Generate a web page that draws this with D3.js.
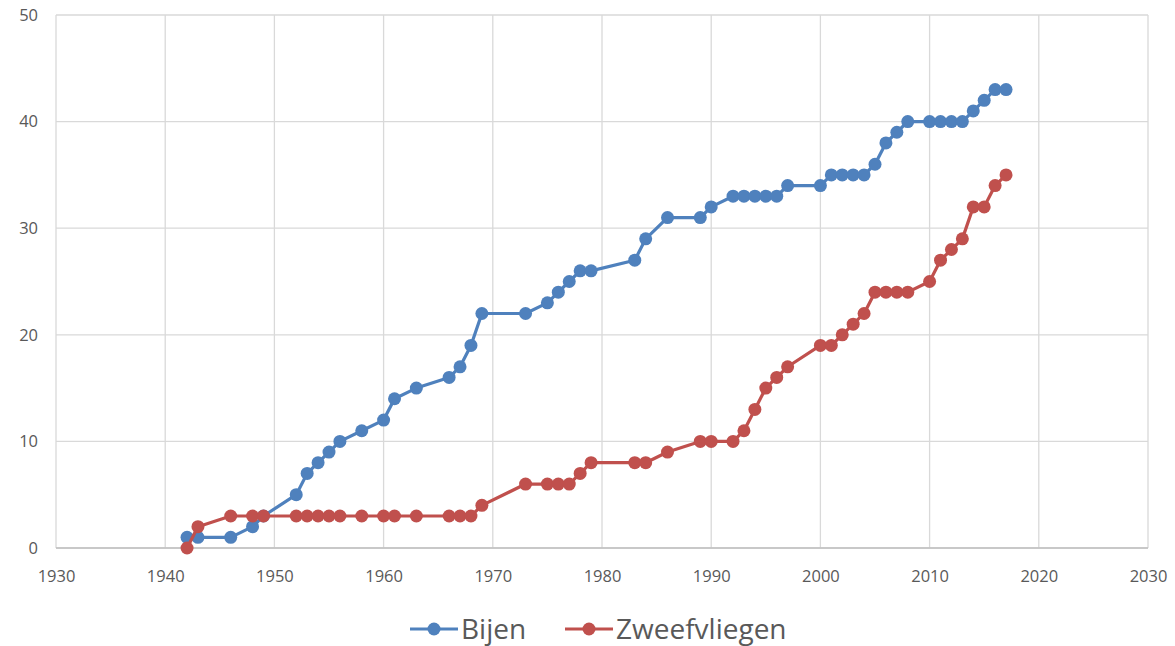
<!DOCTYPE html>
<html>
<head>
<meta charset="utf-8">
<script src="https://cdn.jsdelivr.net/npm/d3@7"></script>
<style>
  body { margin: 0; background: #fff; }
  svg text { font-family: "Open Sans", "Liberation Sans", sans-serif; fill: #595959; }
</style>
</head>
<body>
<div id="chart"></div>
<script>
// data
var years = [1942, 1943, 1946, 1948, 1949, 1952, 1953, 1954, 1955, 1956, 1958, 1960, 1961, 1963,
    1966, 1967, 1968, 1969, 1973, 1975, 1976, 1977, 1978, 1979, 1983, 1984, 1986, 1989, 1990,
    1992, 1993, 1994, 1995, 1996, 1997, 2000, 2001, 2002, 2003, 2004, 2005, 2006, 2007, 2008,
    2010, 2011, 2012, 2013, 2014, 2015, 2016, 2017];
var bijen = [1, 1, 1, 2, 3, 5, 7, 8, 9, 10, 11, 12, 14, 15,
    16, 17, 19, 22, 22, 23, 24, 25, 26, 26, 27, 29, 31, 31, 32,
    33, 33, 33, 33, 33, 34, 34, 35, 35, 35, 35, 36, 38, 39, 40,
    40, 40, 40, 40, 41, 42, 43, 43];
var zweefvliegen = [0, 2, 3, 3, 3, 3, 3, 3, 3, 3, 3, 3, 3, 3,
    3, 3, 3, 4, 6, 6, 6, 6, 7, 8, 8, 8, 9, 10, 10,
    10, 11, 13, 15, 16, 17, 19, 19, 20, 21, 22, 24, 24, 24, 24,
    25, 27, 28, 29, 32, 32, 34, 35];
var xTicks = [1930, 1940, 1950, 1960, 1970, 1980, 1990, 2000, 2010, 2020, 2030];
var yTicks = [0, 10, 20, 30, 40, 50];

var series = [
    { name: "Bijen", values: bijen, color: "#4F81BD" },
    { name: "Zweefvliegen", values: zweefvliegen, color: "#C0504D" }
];

var W = 1175, H = 646;
var margin = { top: 15, right: 27, bottom: 98, left: 56 };
var width = W - margin.left - margin.right;
var height = H - margin.top - margin.bottom;

var svg = d3.select("#chart").append("svg")
    .attr("width", W)
    .attr("height", H)
    .append("g")
    .attr("transform", "translate(" + margin.left + "," + margin.top + ")");

var x = d3.scaleLinear().domain([1930, 2030]).range([0, width]);
var y = d3.scaleLinear().domain([0, 50]).range([height, 0]);

// gridlines
svg.append("g")
    .selectAll("line.h")
    .data(yTicks)
    .enter().append("line")
    .attr("x1", 0).attr("x2", width)
    .attr("y1", function (d) { return y(d); })
    .attr("y2", function (d) { return y(d); })
    .attr("stroke", "#d9d9d9")
    .attr("stroke-width", 1.3);

svg.append("g")
    .selectAll("line.v")
    .data(xTicks)
    .enter().append("line")
    .attr("x1", function (d) { return x(d); })
    .attr("x2", function (d) { return x(d); })
    .attr("y1", 0).attr("y2", height)
    .attr("stroke", "#d9d9d9")
    .attr("stroke-width", 1.3);

// bottom axis line
svg.append("line")
    .attr("x1", 0).attr("x2", width)
    .attr("y1", height).attr("y2", height)
    .attr("stroke", "#bfbfbf")
    .attr("stroke-width", 1.5);

// axes labels
var xaxis = svg.append("g")
    .attr("transform", "translate(0," + height + ")")
    .call(d3.axisBottom(x).tickValues(xTicks).tickFormat(d3.format("d")).tickSize(0).tickPadding(22));
xaxis.select("path").remove();
xaxis.selectAll("text").style("font-size", "16.5px").attr("fill", "#595959");

var yaxis = svg.append("g")
    .call(d3.axisLeft(y).tickValues(yTicks).tickSize(0).tickPadding(18));
yaxis.select("path").remove();
yaxis.selectAll("text").style("font-size", "16.5px").attr("fill", "#595959");

// lines and markers
var line = d3.line()
    .x(function (d) { return x(d.year); })
    .y(function (d) { return y(d.value); });

series.forEach(function (s) {
    var pts = years.map(function (yr, i) { return { year: yr, value: s.values[i] }; });
    var g = svg.append("g");
    g.append("path")
        .datum(pts)
        .attr("fill", "none")
        .attr("stroke", s.color)
        .attr("stroke-width", 3.2)
        .attr("stroke-linejoin", "round")
        .attr("d", line);
    g.selectAll("circle")
        .data(pts)
        .enter().append("circle")
        .attr("cx", function (d) { return x(d.year); })
        .attr("cy", function (d) { return y(d.value); })
        .attr("r", 6.5)
        .attr("fill", s.color);
});

// legend
var legend = d3.select("svg").append("g")
    .attr("transform", "translate(0,629)");
var legendX = [410, 565];
series.forEach(function (s, i) {
    var lg = legend.append("g").attr("transform", "translate(" + legendX[i] + ",0)");
    lg.append("line")
        .attr("x1", 0).attr("x2", 48)
        .attr("y1", 0).attr("y2", 0)
        .attr("stroke", s.color)
        .attr("stroke-width", 3.2);
    lg.append("circle")
        .attr("cx", 24).attr("cy", 0).attr("r", 6.5)
        .attr("fill", s.color);
    lg.append("text")
        .attr("x", 51)
        .attr("y", 0)
        .attr("dy", "0.35em")
        .style("font-size", "28px")
        .text(s.name);
});
</script>
</body>
</html>
